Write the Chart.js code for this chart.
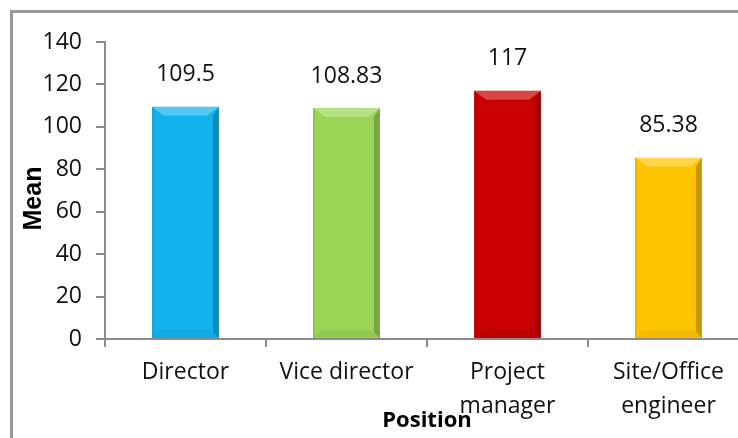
<!DOCTYPE html>
<html>
<head>
<meta charset="utf-8">
<script src="https://cdn.jsdelivr.net/npm/chart.js@4/dist/chart.umd.min.js"></script>
<style>
html,body{margin:0;padding:0;background:#fff;overflow:hidden;width:738px;height:438px;}
#wrap{position:absolute;left:0;top:0;width:760px;height:438px;}
#frameTop{position:absolute;left:10px;top:10px;width:740px;height:3px;background:#999;}
#frameLeft{position:absolute;left:10px;top:10px;width:3px;height:440px;background:#999;}
canvas{position:absolute;left:0;top:0;}
</style>
</head>
<body>
<div id="wrap">
<canvas id="c" width="760" height="438"></canvas>
</div>
<div id="frameTop"></div>
<div id="frameLeft"></div>
<script>
const categories = [['Director'], ['Vice director'], ['Project', 'manager'], ['Site/Office', 'engineer']];
const meanValues = [109.5, 108.83, 117, 85.38];
const valueLabels = ['109.5', '108.83', '117', '85.38'];
const barColors = ['#12B3EC', '#9AD555', '#C80000', '#FFC400'];
const yTicks = [0, 20, 40, 60, 80, 100, 120, 140];
const xTitle = 'Position';
const yTitle = 'Mean';

const FONT = "'Open Sans', sans-serif";

const decor = {
  id: 'decor',
  afterDatasetsDraw(chart) {
    const ctx = chart.ctx;
    const meta = chart.getDatasetMeta(0);
    meta.data.forEach((bar, i) => {
      const w = bar.width, l = bar.x - w / 2, r = bar.x + w / 2, t = bar.y, b = bar.base;
      ctx.save();
      // right darker strip
      ctx.fillStyle = 'rgba(0,0,0,0.22)';
      ctx.beginPath();
      ctx.moveTo(r, t); ctx.lineTo(r, b); ctx.lineTo(r - 6, b - 6); ctx.lineTo(r - 6, t + 9); ctx.closePath(); ctx.fill();
      // top lighter bevel
      ctx.fillStyle = 'rgba(255,255,255,0.28)';
      ctx.beginPath();
      ctx.moveTo(l, t); ctx.lineTo(r, t); ctx.lineTo(r - 12, t + 9); ctx.lineTo(l + 12, t + 9); ctx.closePath(); ctx.fill();
      // bottom darker bevel
      ctx.fillStyle = 'rgba(0,0,0,0.05)';
      ctx.beginPath();
      ctx.moveTo(l, b); ctx.lineTo(r, b); ctx.lineTo(r - 9, b - 8); ctx.lineTo(l + 9, b - 8); ctx.closePath(); ctx.fill();
      // left thin edge
      ctx.fillStyle = 'rgba(0,0,0,0.12)';
      ctx.fillRect(l, t, 1.5, b - t);
      // value label
      ctx.fillStyle = '#111';
      ctx.font = "23px " + FONT;
      ctx.textAlign = 'center';
      ctx.textBaseline = 'middle';
      ctx.fillText(valueLabels[i], bar.x, t - 32);
      ctx.restore();
    });
  },
  afterDraw(chart) {
    const ctx = chart.ctx, a = chart.chartArea;
    ctx.save();
    ctx.fillStyle = '#000';
    ctx.font = "bold 22px " + FONT;
    ctx.textAlign = 'center';
    ctx.textBaseline = 'middle';
    ctx.fillText(xTitle, (a.left + a.right) / 2, 421);
    ctx.translate(34, (a.top + a.bottom) / 2 + 8);
    ctx.rotate(-Math.PI / 2);
    ctx.font = "bold 25px 'Liberation Sans', Arial, sans-serif";
    ctx.fillText(yTitle, 0, 0);
    ctx.restore();
  }
};

new Chart(document.getElementById('c'), {
  type: 'bar',
  data: {
    labels: categories,
    datasets: [{
      data: meanValues,
      backgroundColor: barColors,
      borderWidth: 0,
      barPercentage: 0.415,
      categoryPercentage: 1
    }]
  },
  options: {
    responsive: false,
    animation: false,
    devicePixelRatio: 1,
    layout: { padding: { left: 0, right: 11, top: 42, bottom: 0 } },
    plugins: { legend: { display: false }, tooltip: { enabled: false } },
    scales: {
      x: {
        offset: true,
        grid: { display: true, offset: true, drawOnChartArea: false, tickLength: 8, color: '#8c8c8c', lineWidth: 2 },
        border: { display: true, color: '#8c8c8c', width: 2 },
        ticks: {
          color: '#111', font: { family: FONT, size: 23, lineHeight: 1.48 },
          padding: 8, maxRotation: 0, minRotation: 0, autoSkip: false
        },
        afterFit(s) { s.height = 99; }
      },
      y: {
        min: 0, max: 140,
        afterBuildTicks(s) { s.ticks = yTicks.map(v => ({ value: v })); },
        grid: { display: true, drawOnChartArea: false, tickLength: 9, color: '#8c8c8c', lineWidth: 2 },
        border: { display: true, color: '#8c8c8c', width: 2 },
        ticks: { color: '#111', font: { family: FONT, size: 23 }, padding: 14 },
        afterFit(s) { s.width = 105; }
      }
    }
  },
  plugins: [decor]
});
</script>
</body>
</html>
